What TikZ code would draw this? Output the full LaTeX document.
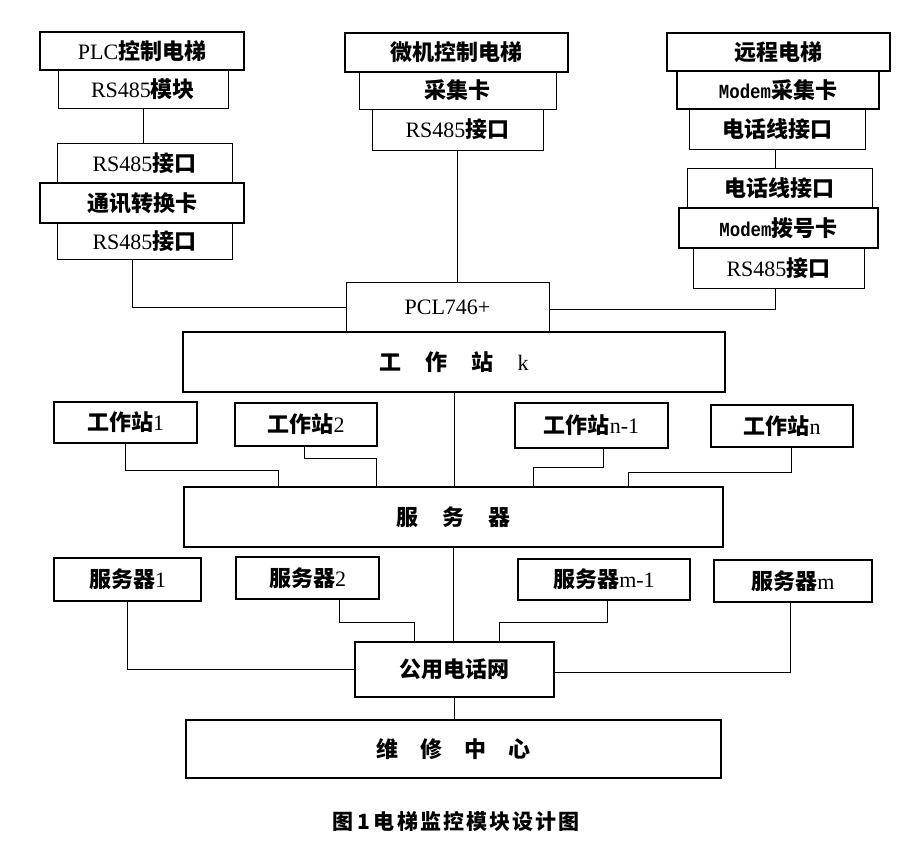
\documentclass[tikz,border=0pt]{standalone}
\usepackage{fontspec}
\setmainfont{Liberation Serif}
\newfontfamily\cjkf{Noto Sans CJK SC}
\newfontfamily\capf[LetterSpace=10]{Noto Sans CJK SC}
\newcommand\cjk{\cjkf\bfseries}
\newfontfamily\monob[FakeStretch=0.87]{Liberation Mono}
\usetikzlibrary{fit}
\newcommand\modem{{\monob\bfseries\fontsize{20}{24}\selectfont Modem}}
\tikzset{
  box/.style={draw, line width=1pt, inner sep=0pt},
  hbox/.style={box, line width=2pt},
  mbox/.style={box, line width=1.5pt},
  lbl/.style={inner sep=0pt, font=\fontsize{22}{26}\selectfont},
  wire/.style={line width=0.9pt},
}
% #1 style, #2 corner, #3 corner, #4 name, #5 text
\newcommand\bxn[5]{\node[#1, fit={#2 #3}, label={[lbl]center:{#5}}] (#4) {};}
\begin{document}
\begin{tikzpicture}[x=1pt,y=-1pt]
\useasboundingbox (0,0) rectangle (912,844);
% left column
\bxn{box}{(58,70)}{(228,108)}{rsm}{RS485{\cjk 模块}}
\bxn{hbox}{(40,32)}{(244,70)}{plc}{PLC{\cjk 控制电梯}}
\bxn{box}{(57,143)}{(232,183)}{rsa}{RS485{\cjk 接口}}
\bxn{box}{(57,223)}{(232,259)}{rsb}{RS485{\cjk 接口}}
\bxn{hbox}{(40,183)}{(244,223)}{txk}{{\cjk 通讯转换卡}}
% middle column
\bxn{box}{(359,72)}{(556,109)}{cjk}{{\cjk 采集卡}}
\bxn{box}{(372,109)}{(543,150)}{rsc}{RS485{\cjk 接口}}
\bxn{hbox}{(345,33)}{(568,72)}{wj}{{\cjk 微机控制电梯}}
% right column
\bxn{mbox}{(677,71)}{(879,109)}{mc}{\modem{\cjk 采集卡}}
\bxn{box}{(689,109)}{(865,149)}{dh1}{{\cjk 电话线接口}}
\bxn{hbox}{(667,33)}{(890,71)}{yc}{{\cjk 远程电梯}}
\bxn{box}{(687,168)}{(872,208)}{dh2}{{\cjk 电话线接口}}
\bxn{box}{(693,248)}{(864,288)}{rsd}{RS485{\cjk 接口}}
\bxn{hbox}{(679,208)}{(878,248)}{mb}{\modem{\cjk 拨号卡}}
% centre
\bxn{box}{(346,282)}{(549,332)}{pcl}{PCL746+}
\bxn{hbox}{(183,332)}{(725,392)}{gzk}{{\cjk 工\hspace{24pt}作\hspace{24pt}站}\hspace{24pt}k}
% workstations
\bxn{mbox}{(54,402)}{(197,443)}{gz1}{{\cjk 工作站}1}
\bxn{mbox}{(235,403)}{(377,446)}{gz2}{{\cjk 工作站}2}
\bxn{mbox}{(515,403)}{(668,448)}{gzn1}{{\cjk 工作站}n-1}
\bxn{mbox}{(711,405)}{(853,447)}{gzn}{{\cjk 工作站}n}
\bxn{mbox}{(184,487)}{(723,547)}{fwq}{{\cjk 服\hspace{24pt}务\hspace{24pt}器}}
% servers
\bxn{mbox}{(54,558)}{(201,601)}{fw1}{{\cjk 服务器}1}
\bxn{mbox}{(236,557)}{(379,599)}{fw2}{{\cjk 服务器}2}
\bxn{mbox}{(518,559)}{(690,600)}{fwm1}{{\cjk 服务器}m-1}
\bxn{mbox}{(714,560)}{(872,602)}{fwm}{{\cjk 服务器}m}
\bxn{mbox}{(355,642)}{(554,697)}{gyd}{{\cjk 公用电话网}}
\bxn{mbox}{(186,720)}{(721,778)}{wx}{{\cjk 维\hspace{22pt}修\hspace{22pt}中\hspace{22pt}心}}
% caption
\node[font=\capf\bfseries\fontsize{21}{25}\selectfont, inner sep=0pt] (cap) at (456,821) {图\hspace{4pt}1\hspace{4pt}电梯监控模块设计图};
% connectors
\draw[wire] (rsm.south) -- (rsm.south |- rsa.north);
\draw[wire] ([xshift=-12pt]rsb.south) |- (pcl.west);
\draw[wire] (rsc.south) -- (rsc.south |- pcl.north);
\draw[wire] ([xshift=-2pt]dh1.south) -- ([xshift=-2pt]dh1.south |- dh2.north);
\draw[wire] ([xshift=-3pt]rsd.south) |- ([yshift=-2pt]pcl.east);
\draw[wire] (gzk.south) -- (gzk.south |- fwq.north);
\draw[wire] (gz1.south) -- ++(0,27) -| ([xshift=-175pt]fwq.north);
\draw[wire] ([xshift=-2pt]gz2.south) -- ++(0,12) -| ([xshift=-77pt]fwq.north);
\draw[wire] ([xshift=12pt]gzn1.south) -- ++(0,19) -| ([xshift=80pt]fwq.north);
\draw[wire] ([xshift=9pt]gzn.south) -- ++(0,25) -| ([xshift=175pt]fwq.north);
\draw[wire] (fwq.south) -- (fwq.south |- gyd.north);
\draw[wire] (fw1.south) |- (gyd.west);
\draw[wire] ([xshift=32pt]fw2.south) -- ++(0,23) -| ([xshift=-40pt]gyd.north);
\draw[wire] ([xshift=3pt]fwm1.south) -- ++(0,22) -| ([xshift=45pt]gyd.north);
\draw[wire] ([xshift=-3pt]fwm.south) |- ([yshift=-3pt]gyd.east);
\draw[wire] (gyd.south) -- (gyd.south |- wx.north);
\end{tikzpicture}
\end{document}
